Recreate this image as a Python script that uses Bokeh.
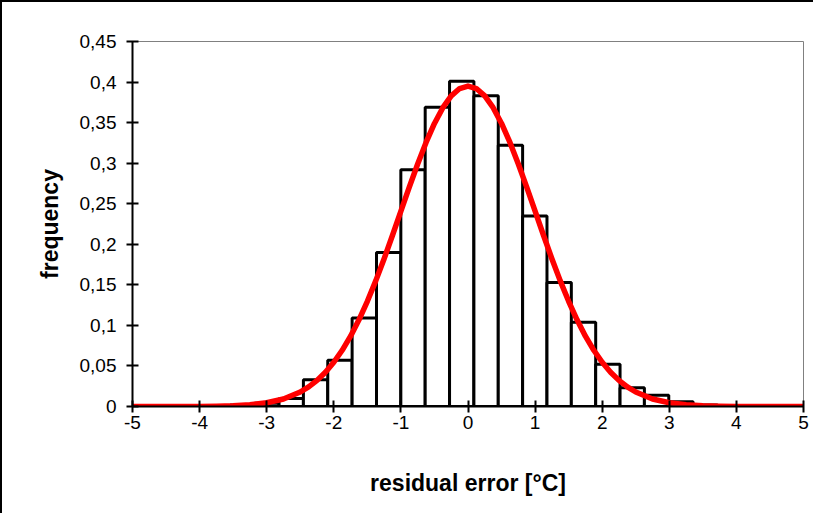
from bokeh.plotting import figure
from bokeh.models import FixedTicker, CustomJSTickFormatter, Range1d, ColumnDataSource
from bokeh.embed import file_html
from bokeh.resources import INLINE

# histogram bins (edges) and frequencies
bin_edges = [-3.905, -3.542, -3.179, -2.816, -2.453, -2.090, -1.727, -1.364, -1.001,
             -0.638, -0.275, 0.088, 0.451, 0.814, 1.177, 1.540, 1.903, 2.266,
             2.629, 2.992, 3.355, 3.718]
freq = [0.001, 0.002, 0.004, 0.010, 0.033, 0.057, 0.109, 0.190, 0.292,
        0.369, 0.401, 0.383, 0.322, 0.235, 0.153, 0.104, 0.052, 0.023,
        0.014, 0.006, 0.002]

# fitted curve
curve_x = [-5, -4.5, -4, -3.75, -3.5, -3.25, -3, -2.75, -2.5, -2.375, -2.25, -2.125,
           -2, -1.875, -1.75, -1.625, -1.5, -1.375, -1.25, -1.125, -1, -0.875,
           -0.75, -0.625, -0.5, -0.375, -0.25, -0.125, 0, 0.125, 0.25, 0.375,
           0.5, 0.625, 0.75, 0.875, 1, 1.125, 1.25, 1.375, 1.5, 1.625, 1.75,
           1.875, 2, 2.125, 2.25, 2.375, 2.5, 2.75, 3, 3.25, 3.5, 3.75, 4, 4.5, 5]
curve_y = [0.0, 0.0, 0.0001, 0.0004, 0.0009, 0.0021, 0.0046, 0.0093, 0.0179, 0.0242,
           0.0322, 0.0423, 0.0545, 0.0693, 0.0867, 0.1069, 0.1297, 0.1549, 0.1822,
           0.2111, 0.2408, 0.2704, 0.2990, 0.3256, 0.3490, 0.3684, 0.3830, 0.3920,
           0.3950, 0.3920, 0.3830, 0.3684, 0.3490, 0.3256, 0.2990, 0.2704, 0.2408,
           0.2111, 0.1822, 0.1549, 0.1297, 0.1069, 0.0867, 0.0693, 0.0545, 0.0423,
           0.0322, 0.0242, 0.0179, 0.0093, 0.0046, 0.0021, 0.0009, 0.0004, 0.0001,
           0.0, 0.0]

x_ticks = [-5, -4, -3, -2, -1, 0, 1, 2, 3, 4, 5]
y_ticks = [0, 0.05, 0.1, 0.15, 0.2, 0.25, 0.3, 0.35, 0.4, 0.45]

p = figure(width=813, height=513, output_backend="svg", toolbar_location=None,
           x_range=Range1d(-5, 5), y_range=Range1d(0, 0.45),
           min_border_left=130, min_border_right=12, min_border_top=39,
           min_border_bottom=109)
p.styles = {"border-left": "2px solid black", "border-top": "2px solid black"}
p.xgrid.visible = False
p.ygrid.visible = False
p.background_fill_color = "white"
p.border_fill_color = "white"
p.outline_line_color = "#808080"
p.outline_line_width = 1

src = ColumnDataSource(dict(left=bin_edges[:-1], right=bin_edges[1:],
                            top=freq, bottom=[0] * len(freq)))
p.quad(left="left", right="right", top="top", bottom="bottom", source=src,
       fill_color="white", line_color="black", line_width=3)

p.line(curve_x, curve_y, line_color="#ff0000", line_width=5.5,
       line_join="round", line_cap="round")

fmt = CustomJSTickFormatter(code="""
var s = tick.toFixed(2).replace(/0+$/, '').replace(/\\.$/, '');
return s.replace('.', ',');
""")

for ax in (p.xaxis[0], p.yaxis[0]):
    ax.axis_line_color = "black"
    ax.axis_line_width = 2
    ax.major_tick_line_color = "black"
    ax.major_tick_line_width = 2
    ax.major_tick_in = 6
    ax.major_tick_out = 6
    ax.minor_tick_line_color = None
    ax.major_label_text_font = "Liberation Sans"
    ax.major_label_text_font_size = "19px"
    ax.major_label_text_color = "black"
    ax.axis_label_text_font = "Liberation Sans"
    ax.axis_label_text_font_style = "bold"
    ax.axis_label_text_font_size = "23px"
    ax.axis_label_text_color = "black"

p.xaxis.ticker = FixedTicker(ticks=x_ticks)
p.yaxis.ticker = FixedTicker(ticks=y_ticks)
p.yaxis.formatter = fmt
p.xaxis.formatter = fmt
p.xaxis.axis_label = "residual error [°C]"
p.yaxis.axis_label = "frequency"
p.xaxis.major_label_standoff = 3
p.yaxis.major_label_standoff = 10
p.xaxis.axis_label_standoff = 38
p.yaxis.axis_label_standoff = 14

open("out.html", "w").write(file_html(p, INLINE))
